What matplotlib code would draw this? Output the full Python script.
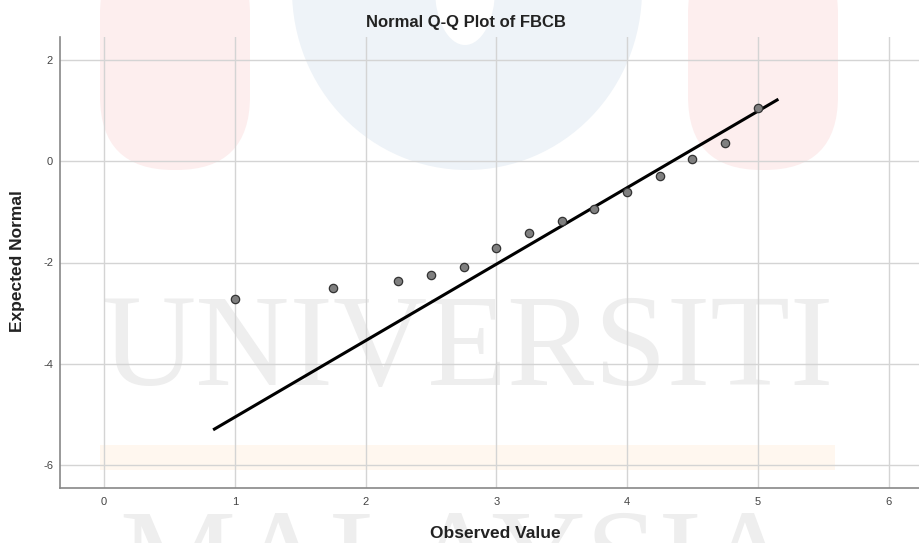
import matplotlib
matplotlib.use("Agg")
import matplotlib.pyplot as plt
from matplotlib.patches import FancyBboxPatch, Rectangle, Ellipse

# Data
observed = [1.0, 1.75, 2.25, 2.5, 2.75, 3.0, 3.25, 3.5, 3.75, 4.0, 4.25, 4.5, 4.75, 5.0]
expected = [-2.73, -2.50, -2.36, -2.24, -2.08, -1.72, -1.41, -1.17, -0.95, -0.61, -0.28, 0.04, 0.36, 1.05]
line_x = [0.834, 5.157]
line_y = [-5.31, 1.23]
xticks = [0, 1, 2, 3, 4, 5, 6]
yticks = [-6, -4, -2, 0, 2]

plt.rcParams['font.family'] = ['Liberation Sans', 'DejaVu Sans']

W, H = 920, 543
fig = plt.figure(figsize=(W / 100, H / 100), dpi=100)
fig.patch.set_facecolor('white')

def fx(px):
    return px / W

def fy(py):
    return 1 - py / H

# Watermark (background)
wm = []
wm.append(FancyBboxPatch((fx(100), fy(170)), fx(150), fy(-60) - fy(170), boxstyle="round,pad=0,rounding_size=0.08",
                         transform=fig.transFigure, facecolor='#fdeeee', edgecolor='none', zorder=-5, mutation_aspect=1.7))
wm.append(FancyBboxPatch((fx(688), fy(170)), fx(150), fy(-60) - fy(170), boxstyle="round,pad=0,rounding_size=0.08",
                         transform=fig.transFigure, facecolor='#fdeeee', edgecolor='none', zorder=-5, mutation_aspect=1.7))
wm.append(Ellipse((fx(467), fy(-10)), fx(350), (fy(-10) - fy(170)) * 2, transform=fig.transFigure,
                  facecolor='#eef3f8', edgecolor='none', zorder=-5))
wm.append(Ellipse((fx(465), fy(-10)), fx(60), (fy(-10) - fy(45)) * 2, transform=fig.transFigure,
                  facecolor='white', edgecolor='none', zorder=-4))
wm.append(Rectangle((fx(100), fy(470)), fx(735), fy(445) - fy(470), transform=fig.transFigure,
                    facecolor='#fff7ef', edgecolor='none', zorder=-5))
for p in wm:
    fig.add_artist(p)

fig.text(fx(467), fy(385), 'UNIVERSITI', ha='center', va='baseline', fontsize=94,
         family='Liberation Serif', color='#eeeeee', zorder=-3)
fig.text(fx(458), fy(600), 'MALAYSIA', ha='center', va='baseline', fontsize=94,
         family='Liberation Serif', color='#eeeeee', zorder=-3)

# Axes
ax = fig.add_axes([fx(60), fy(488), fx(920) - fx(60), fy(37) - fy(488)])
ax.set_facecolor('none')
ax.set_xlim(-0.337, 6.24)
ax.set_ylim(-6.46, 2.46)
ax.set_xticks(xticks)
ax.set_yticks(yticks)
ax.set_xticklabels([str(t) for t in xticks])
ax.set_yticklabels([str(t) for t in yticks])
ax.tick_params(length=0, labelsize=8, colors='#444444')
ax.tick_params(axis='x', pad=6.5)
ax.tick_params(axis='y', pad=5)
ax.grid(True, color='#d4d4d4', linewidth=1)
ax.set_axisbelow(True)
for s in ['top', 'right']:
    ax.spines[s].set_visible(False)
for s in ['left', 'bottom']:
    ax.spines[s].set_color('#888888')
    ax.spines[s].set_linewidth(1.2)

ax.plot(line_x, line_y, color='black', linewidth=2.2, solid_capstyle='butt', zorder=3)
ax.plot(observed, expected, linestyle='none', marker='o', markersize=6,
        markerfacecolor='#7f7f7f', markeredgecolor='#333333', markeredgewidth=0.9, zorder=4)

fig.text(fx(466), fy(23), 'Normal Q-Q Plot of FBCB', ha='center', va='center',
         fontsize=12, fontweight='bold', color='#222222')
fig.text(fx(495), fy(533), 'Observed Value', ha='center', va='center',
         fontsize=12.5, fontweight='bold', color='#222222')
fig.text(fx(18), fy(261), 'Expected Normal', ha='center', va='center', rotation=90,
         fontsize=12.5, fontweight='bold', color='#222222')

fig.savefig('out.png', dpi=100)
